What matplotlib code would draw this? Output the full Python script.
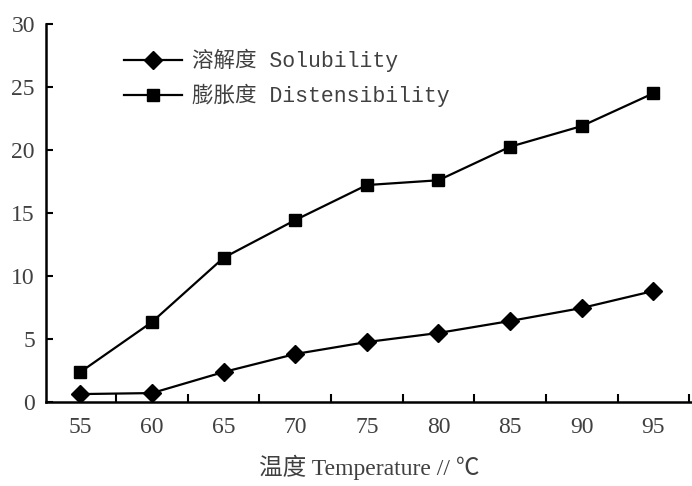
import matplotlib
matplotlib.use("Agg")
import matplotlib.pyplot as plt
from matplotlib.ticker import MultipleLocator, FixedLocator

temperature = [55, 60, 65, 70, 75, 80, 85, 90, 95]
solubility = [0.63, 0.71, 2.38, 3.81, 4.76, 5.48, 6.43, 7.46, 8.81]
distensibility = [2.38, 6.35, 11.45, 14.44, 17.22, 17.6, 20.26, 21.9, 24.5]
x_ticks = [55, 60, 65, 70, 75, 80, 85, 90, 95]
y_ticks = [0, 5, 10, 15, 20, 25, 30]
label_sol = "溶解度 Solubility"
label_dis = "膨胀度 Distensibility"
x_label = "温度 Temperature // ℃"

txt = "#404040"
fig = plt.figure(figsize=(6.92, 4.86), dpi=100)
ax = fig.add_axes([0.0665, 0.1728, 0.9335, 0.7778])

ax.plot(temperature, solubility, color="black", lw=1.6, marker="D", ms=9.5,
        label=label_sol)
ax.plot(temperature, distensibility, color="black", lw=1.6, marker="s", ms=9,
        label=label_dis)

ax.set_xlim(52.6, 97.7)
ax.set_ylim(0, 30)
ax.xaxis.set_major_locator(FixedLocator(x_ticks))
ax.xaxis.set_minor_locator(MultipleLocator(5, offset=2.5))
ax.yaxis.set_major_locator(FixedLocator(y_ticks))

for s in ["top", "right"]:
    ax.spines[s].set_visible(False)
for s in ["left", "bottom"]:
    ax.spines[s].set_linewidth(1.8)

ax.tick_params(axis="x", which="major", length=0, pad=11, labelsize=17,
               labelcolor=txt)
ax.tick_params(axis="x", which="minor", direction="in", length=6, width=1.5)
ax.tick_params(axis="y", which="major", direction="in", length=5, width=1.5,
               pad=8, labelsize=17, labelcolor=txt)
for lab in ax.get_xticklabels() + ax.get_yticklabels():
    lab.set_fontfamily("Liberation Serif")

ax.set_xlabel(x_label, fontsize=17, color=txt,
              family=["Liberation Serif", "Noto Sans CJK SC"], labelpad=12)

leg = ax.legend(loc="upper left", bbox_to_anchor=(0.09, 0.985), frameon=False,
                handlelength=2.7, handletextpad=0.5, labelspacing=0.55,
                prop={"family": ["Liberation Mono", "Noto Sans CJK SC"], "size": 15.5})
for t in leg.get_texts():
    t.set_color(txt)

fig.savefig("out.png", dpi=100, facecolor="white")
